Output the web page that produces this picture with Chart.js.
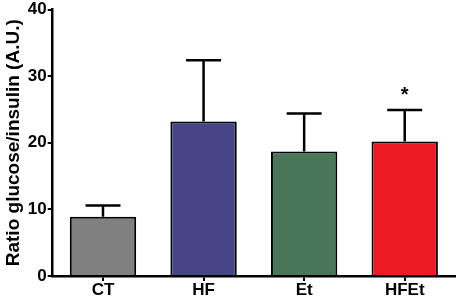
<!DOCTYPE html>
<html>
<head>
<meta charset="utf-8">
<script src="https://cdn.jsdelivr.net/npm/chart.js@4"></script>
<style>
  html, body { margin: 0; padding: 0; background: #ffffff; }
  #box { width: 459px; height: 300px; }
</style>
</head>
<body>
<div id="box"><canvas id="chart" width="459" height="300"></canvas></div>
<script>
// Données
const groups = ['CT', 'HF', 'Et', 'HFEt'];
const ratioMeans = [8.9, 23.2, 18.7, 20.2];
const ratioErrors = [1.7, 9.2, 5.7, 4.7];
const barColors = ['#808080', '#464585', '#477659', '#ED1C24'];
const significance = ['', '', '', '*'];
const yTicks = [0, 10, 20, 30, 40];

const fontFamily = '"Liberation Sans", Arial, sans-serif';

// Barres d'erreur (vers le haut seulement) et astérisque
const errorBarsPlugin = {
    id: 'errorBars',
    afterDatasetsDraw(chart) {
        const ctx = chart.ctx;
        const yScale = chart.scales.y;
        const meta = chart.getDatasetMeta(0);
        ctx.save();
        ctx.strokeStyle = '#000000';
        ctx.lineWidth = 2.5;
        meta.data.forEach((bar, i) => {
            const top = bar.y;
            const errTop = yScale.getPixelForValue(ratioMeans[i] + ratioErrors[i]);
            ctx.beginPath();
            ctx.moveTo(bar.x, top);
            ctx.lineTo(bar.x, errTop);
            ctx.moveTo(bar.x - 17.5, errTop);
            ctx.lineTo(bar.x + 17.5, errTop);
            ctx.stroke();
            if (significance[i]) {
                ctx.fillStyle = '#000000';
                ctx.font = 'bold 20px ' + fontFamily;
                ctx.textAlign = 'center';
                ctx.textBaseline = 'middle';
                ctx.fillText(significance[i], bar.x, errTop - 15);
            }
        });
        ctx.restore();
    }
};

new Chart(document.getElementById('chart').getContext('2d'), {
    type: 'bar',
    data: {
        labels: groups,
        datasets: [{
            data: ratioMeans,
            backgroundColor: barColors,
            borderColor: '#000000',
            borderWidth: 2,
            borderSkipped: 'bottom',
            barPercentage: 0.66,
            categoryPercentage: 1
        }]
    },
    options: {
        responsive: false,
        animation: false,
        layout: {
            padding: { left: 2, right: 4, top: 2, bottom: 0 }
        },
        plugins: {
            legend: { display: false },
            tooltip: { enabled: false }
        },
        scales: {
            x: {
                offset: true,
                grid: {
                    display: true,
                    drawOnChartArea: false,
                    drawTicks: true,
                    tickLength: 5,
                    color: '#000000',
                    lineWidth: 2,
                    offset: false
                },
                border: { display: true, color: '#000000', width: 2.5 },
                ticks: {
                    color: '#000000',
                    padding: 1,
                    font: { family: fontFamily, size: 17, weight: 'bold', lineHeight: 1 }
                }
            },
            y: {
                min: 0,
                max: 40,
                afterBuildTicks(scale) {
                    scale.ticks = yTicks.map(v => ({ value: v }));
                },
                grid: {
                    display: true,
                    drawOnChartArea: false,
                    drawTicks: true,
                    tickLength: 5,
                    color: '#000000',
                    lineWidth: 2
                },
                border: { display: true, color: '#000000', width: 2.5 },
                title: {
                    display: true,
                    text: 'Ratio glucose/insulin (A.U.)',
                    color: '#000000',
                    padding: { top: 0, bottom: 2 },
                    font: { family: fontFamily, size: 19, weight: 'bold' }
                },
                ticks: {
                    color: '#000000',
                    padding: 1,
                    font: { family: fontFamily, size: 17, weight: 'bold', lineHeight: 1 }
                }
            }
        }
    },
    plugins: [errorBarsPlugin]
});
</script>
</body>
</html>
